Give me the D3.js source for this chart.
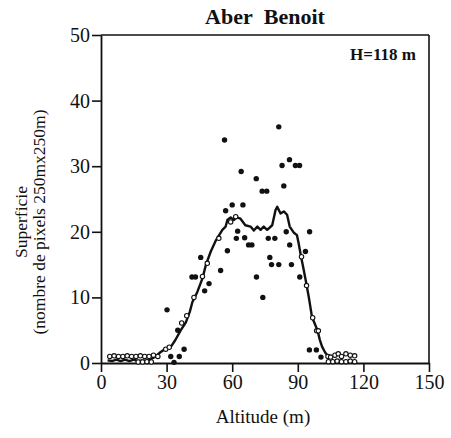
<!DOCTYPE html>
<html>
<head>
<meta charset="utf-8">
<script src="https://cdn.jsdelivr.net/npm/d3@7"></script>
<style>
  html, body { margin: 0; padding: 0; background: #fff; }
  svg { display: block; }
  text { font-family: "Liberation Serif", "Times New Roman", serif; fill: #111; }
</style>
</head>
<body>
<svg id="chart" width="451" height="438"></svg>
<script>
// Surface per altitude step (filled dots)
const obsAlt = [30.2, 31.9, 33.4, 35.1, 35.8, 38.0, 41.6, 43.2, 45.6, 47.4, 49.4, 54.7, 56.5, 57.0, 57.8,
  60.0, 61.9, 62.5, 64.1, 64.9, 65.7, 67.5, 69.0, 71.0, 71.1, 73.7, 75.8, 74.0, 76.5, 77.2, 78.0, 79.5,
  81.3, 81.3, 82.8, 83.6, 84.7, 86.2, 86.3, 87.1, 88.9, 90.8, 90.9, 93.5, 95.4, 95.3, 98.5, 100.6];
const obsVal = [8.1, 1.0, 0.1, 5.0, 1.0, 2.1, 13.1, 13.1, 16.1, 11.0, 12.1, 14.1, 34.0, 23.2, 17.1,
  24.1, 19.0, 20.1, 29.2, 24.1, 19.1, 18.0, 18.0, 28.1, 13.1, 26.2, 26.2, 10.0, 19.0, 16.1, 15.0, 19.0,
  36.0, 15.0, 30.1, 27.0, 20.0, 31.0, 18.0, 15.0, 30.1, 30.1, 13.1, 17.0, 20.0, 2.0, 2.0, 0.9];

// Moving-average points (open circles)
const meanAlt = [4, 6, 8, 10, 12, 14, 16, 18, 20, 22, 24, 26, 17, 19, 21, 23,
  29.6, 31.2, 36.9, 39.2, 42.5, 46.4, 48.6, 53.9, 59.3, 61.6,
  91.7, 94.0, 96.8, 98.6, 99.4, 103.8, 105, 107, 108.5, 110, 112, 114, 116, 104, 106, 108, 110, 112, 114, 116];
const meanVal = [1.0, 1.1, 1.0, 1.0, 1.1, 1.0, 1.0, 1.1, 1.0, 1.0, 1.2, 1.0, 0.15, 0.15, 0.2, 0.15,
  2.1, 2.4, 6.1, 7.2, 10.0, 13.2, 15.2, 19.0, 21.5, 22.3,
  16.2, 11.8, 6.9, 4.9, 4.9, 1.0, 0.9, 1.2, 1.4, 1.0, 1.4, 1.2, 1.1, 0.2, 0.2, 0.3, 0.2, 0.2, 0.3, 0.2];

// Smoothed curve
const smoothAlt = [3, 5, 7, 9, 11, 13, 15, 17, 19, 21, 23, 25, 27, 29.6, 32, 34, 36.5, 38.8, 40.6, 41.8, 44,
  46.4, 48, 50.2, 52.4, 55.5, 57, 57.8, 59.3, 60.8, 62, 63.8, 66, 68.4, 69.9, 71.5, 73, 74.4, 76, 78.3,
  79.8, 80.6, 82.1, 83.6, 85.1, 86.3, 88.1, 89.6, 90.4, 91.5, 92.7, 93.9, 95, 96.5, 98, 99.1, 100,
  101.1, 102.5, 103.7, 105];
const smoothVal = [0.4, 0.3, 0.5, 0.3, 0.5, 0.3, 0.5, 0.3, 0.4, 0.3, 0.6, 1.0, 1.6, 2.2, 2.5, 3.5, 5.0, 6.2, 7.8, 9.3, 10.8,
  12.9, 15.0, 17.0, 18.6, 20.3, 20.8, 21.8, 22.2, 21.8, 22.2, 22.0, 21.0, 20.8, 20.2, 20.8, 20.3, 20.8, 20.3, 21.0,
  23.3, 23.8, 22.8, 23.1, 22.6, 20.8, 19.9, 19.5, 18.2, 16.2, 14.2, 12.1, 10.1, 7.0, 5.8, 4.9, 3.6,
  2.5, 1.6, 1.1, 0.9];

const xTicks = [0, 30, 60, 90, 120, 150];
const yTicks = [0, 10, 20, 30, 40, 50];
const chartTitle = "Aber\u00a0\u00a0Benoit";
const noteText = "H=118 m";
const xTitle = "Altitude (m)";
const yTitle1 = "Superficie";
const yTitle2 = "(nombre de pixels 250mx250m)";

const svg = d3.select("#chart");
const x = d3.scaleLinear().domain([0, 150]).range([101, 429]);
const y = d3.scaleLinear().domain([0, 50]).range([363, 35]);

// frame: top and right edges
svg.append("line").attr("x1", x(0)).attr("x2", x(150)).attr("y1", y(50)).attr("y2", y(50))
  .attr("stroke", "#111").attr("stroke-width", 1.6);
svg.append("line").attr("x1", x(150)).attr("x2", x(150)).attr("y1", y(50)).attr("y2", y(0))
  .attr("stroke", "#111").attr("stroke-width", 1.6);

const xAxis = svg.append("g").attr("transform", `translate(0,${y(0)})`)
  .call(d3.axisBottom(x).tickValues(xTicks).tickSize(9).tickSizeOuter(0).tickPadding(3));
const yAxis = svg.append("g").attr("transform", `translate(${x(0)},0)`)
  .call(d3.axisLeft(y).tickValues(yTicks).tickSize(9).tickSizeOuter(0).tickPadding(2));
[xAxis, yAxis].forEach(g => {
  g.select(".domain").attr("stroke", "#111").attr("stroke-width", 1.8);
  g.selectAll(".tick line").attr("stroke", "#111").attr("stroke-width", 1.6);
  g.selectAll(".tick text").attr("font-family", "Liberation Serif").attr("font-size", 20).attr("fill", "#111");
});

// smoothed line
svg.append("path")
  .datum(smoothAlt.map((a, i) => [a, smoothVal[i]]))
  .attr("fill", "none").attr("stroke", "#111").attr("stroke-width", 2.4).attr("stroke-linejoin", "round")
  .attr("d", d3.line().x(d => x(d[0])).y(d => y(d[1])));

// open circles
svg.append("g").selectAll("circle")
  .data(meanAlt.map((a, i) => [a, meanVal[i]]))
  .join("circle")
  .attr("cx", d => x(d[0])).attr("cy", d => y(d[1])).attr("r", 2.2)
  .attr("fill", "#fff").attr("stroke", "#111").attr("stroke-width", 1.1);

// filled dots
svg.append("g").selectAll("circle")
  .data(obsAlt.map((a, i) => [a, obsVal[i]]))
  .join("circle")
  .attr("cx", d => x(d[0])).attr("cy", d => y(d[1])).attr("r", 2.7)
  .attr("fill", "#111");

svg.append("text").attr("x", 265).attr("y", 24).attr("text-anchor", "middle")
  .attr("font-size", 22).attr("font-weight", "bold").text(chartTitle);
svg.append("text").attr("x", 416).attr("y", 60).attr("text-anchor", "end")
  .attr("font-size", 17).attr("font-weight", "bold").text(noteText);
svg.append("text").attr("x", 263).attr("y", 423).attr("text-anchor", "middle")
  .attr("font-size", 19).text(xTitle);
svg.append("text").attr("transform", "translate(27,222) rotate(-90)").attr("text-anchor", "middle")
  .attr("font-size", 17.5).text(yTitle1);
svg.append("text").attr("transform", "translate(45,222) rotate(-90)").attr("text-anchor", "middle")
  .attr("font-size", 17.5).text(yTitle2);
</script>
</body>
</html>
